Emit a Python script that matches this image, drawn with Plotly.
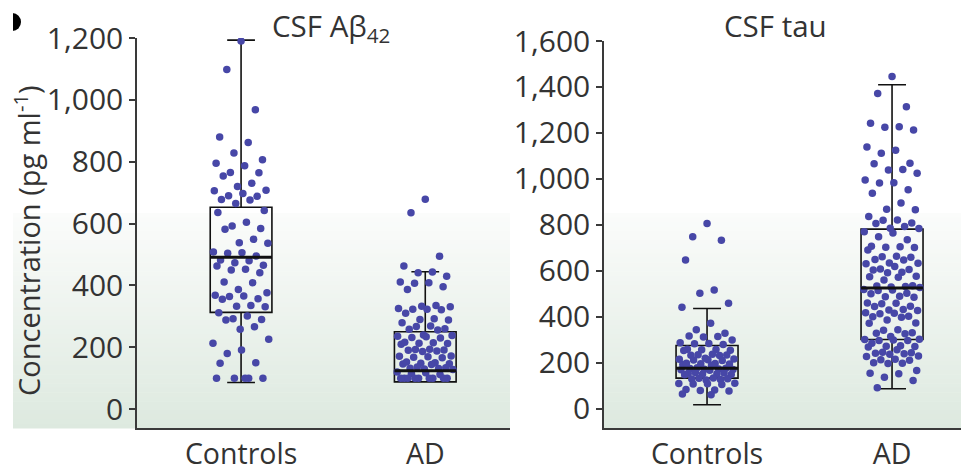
import plotly.graph_objects as go

# ---------------- data ----------------
categories = ["Controls", "AD"]

abeta_controls = [1190, 1098, 968, 880, 862, 828, 806, 795, 787, 765, 754, 764, 730, 720,
                  708, 706, 697, 688, 690, 676, 678, 665, 642, 636, 604, 584, 582, 592,
                  538, 536, 549, 495, 506, 504, 508, 482, 473, 480, 463, 452, 441, 450, 465,
                  409, 411, 387, 366, 376, 364, 368, 355, 357, 333, 331, 335, 312, 290, 301,
                  292, 288, 266, 258, 226, 213, 191, 180, 148, 150, 100, 100, 100, 100, 100]
abeta_ad = [679, 635, 494, 463, 441, 443, 430, 409, 407, 411, 396, 387, 333, 323, 331, 325,
            335, 321, 323, 310, 290, 292, 279, 288, 269, 258, 267, 260, 256,
            240, 236, 232, 238, 234, 230,
            215, 213, 210, 216, 212,
            193, 191, 188, 194, 190, 186,
            171, 169, 166, 172, 168,
            150, 148, 146, 152, 147, 144,
            134, 132, 130, 136, 131, 128,
            118, 115, 120, 112,
            100, 100, 100, 100, 100, 100, 100, 100, 100]
tau_controls = [806, 749, 734, 648, 503, 517, 459, 442, 372, 329, 344, 315, 317, 300, 313,
                288, 283, 280, 285,
                260, 257, 254, 258, 255,
                238, 235, 232, 236, 233,
                216, 214, 211, 217, 213, 220,
                198, 196, 193, 199, 195, 190,
                176, 174, 171, 177, 173, 170, 179, 168,
                155, 153, 150, 156, 152, 149, 158,
                133, 131, 128, 134, 130, 126,
                111, 109, 106, 112, 108,
                82, 80, 78, 84,
                65, 62]
tau_ad = [1446, 1372, 1314, 1227, 1242, 1213, 1225, 1139, 1125, 1112, 1068, 1066, 1039, 1041,
          1025, 996, 982, 984, 953, 938, 895, 866, 868, 837, 822, 808, 806, 820, 793, 785,
          786, 770, 765, 736, 749, 705, 703, 691, 707, 702, 662, 648, 660, 664, 650, 633,
          619, 631, 606, 635, 604, 592, 594, 608, 575, 561, 573, 577, 532, 517, 519, 530,
          534, 515, 528, 536, 488, 486, 503, 490, 501, 459, 445, 457, 461, 447, 430, 428,
          416, 432, 401, 418, 399, 403, 414, 372, 387, 374, 344, 329, 315, 331, 342, 327,
          300, 302, 298, 303, 297, 271, 273, 286, 269, 275, 257, 242, 244, 240, 246, 238,
          228, 214, 216, 230, 212, 199, 201, 197, 167, 155, 153, 124, 138, 92]

# box statistics: [Controls, AD]
abeta_q1 = [313, 88]
abeta_median = [491, 124]
abeta_q3 = [653, 250]
abeta_low = [86, 88]
abeta_high = [1193, 444]

tau_q1 = [134, 302]
tau_median = [177, 526]
tau_q3 = [276, 782]
tau_low = [18, 88]
tau_high = [437, 1410]

abeta_ticks = [0, 200, 400, 600, 800, 1000, 1200]
tau_ticks = [0, 200, 400, 600, 800, 1000, 1200, 1400, 1600]

# ---------------- styling / helpers ----------------
W, H = 969, 468
OFF = 8  # page body margin
DOT = "#4747a7"
AX = "#3a3a3a"
TXT = "#333333"
FONT = "Open Sans"
BOX_W = 0.335
HALF_SPREAD = 0.155


def vdc(n):
    v, denom = 0.0, 1.0
    while n:
        denom *= 2
        n, r = divmod(n, 2)
        v += r / denom
    return v


def spread(values, center):
    order = sorted(range(len(values)), key=lambda i: -values[i])
    xs = [0.0] * len(values)
    for k, i in enumerate(order):
        xs[i] = center + (vdc(k + 1) * 2 - 1) * HALF_SPREAD
    return xs


def py(p):
    return 1 - (p - OFF) / H


def px(p):
    return (p - OFF) / W


fig = go.Figure()

panels = [
    ("x", "y", [abeta_controls, abeta_ad], abeta_q1, abeta_median, abeta_q3, abeta_low, abeta_high),
    ("x2", "y2", [tau_controls, tau_ad], tau_q1, tau_median, tau_q3, tau_low, tau_high),
]

for xa, ya, groups, q1, med, q3, lo, hi in panels:
    for ci, vals in enumerate(groups):
        fig.add_trace(go.Scatter(
            x=spread(vals, ci), y=vals, mode="markers", xaxis=xa, yaxis=ya,
            marker=dict(color=DOT, size=7.5, line=dict(width=0)),
            hoverinfo="skip", showlegend=False))
    fig.add_trace(go.Box(
        x=[0, 1], q1=q1, median=med, q3=q3, lowerfence=lo, upperfence=hi,
        width=BOX_W, whiskerwidth=0.45, boxpoints=False,
        fillcolor="rgba(0,0,0,0)", line=dict(color="#111111", width=1.6),
        xaxis=xa, yaxis=ya, hoverinfo="skip", showlegend=False))
    for ci in range(len(categories)):
        fig.add_trace(go.Scatter(
            x=[ci - BOX_W / 2, ci + BOX_W / 2], y=[med[ci], med[ci]], mode="lines",
            line=dict(color="#111111", width=3), xaxis=xa, yaxis=ya,
            hoverinfo="skip", showlegend=False))

# gradient background strips
shapes = []
N = 48
top_c = (251, 252, 251)
bot_c = (221, 233, 223)
y_top, y_bot = 213, 428
for x0, x1 in [(13, 510), (604, 980)]:
    for k in range(N):
        t = (k + 0.5) / N
        c = tuple(round(top_c[j] + (bot_c[j] - top_c[j]) * t) for j in range(3))
        ya0 = y_top + (y_bot - y_top) * k / N
        ya1 = y_top + (y_bot - y_top) * (k + 1) / N + 0.6
        shapes.append(dict(type="rect", xref="paper", yref="paper",
                           x0=px(x0), x1=px(x1), y0=py(ya1), y1=py(ya0),
                           fillcolor="rgb(%d,%d,%d)" % c, line=dict(width=0), layer="below"))
# cropped panel letter
shapes.append(dict(type="circle", xref="paper", yref="paper", x0=px(4), x1=px(21),
                   y0=py(31), y1=py(13), fillcolor="black", line=dict(width=0), layer="above"))
shapes.append(dict(type="rect", xref="paper", yref="paper", x0=px(-2), x1=px(13),
                   y0=py(45), y1=py(0), fillcolor="white", line=dict(width=0), layer="above"))

axis_common = dict(showline=True, linecolor=AX, linewidth=1.5, showgrid=False, zeroline=False,
                   automargin=False)
ytick_font = dict(family=FONT, size=30, color=TXT)
xtick_font = dict(family=FONT, size=28.5, color=TXT)

fig.update_layout(
    width=W, height=H, margin=dict(l=0, r=0, t=0, b=0, pad=0, autoexpand=False),
    paper_bgcolor="white", plot_bgcolor="rgba(0,0,0,0)",
    font=dict(family=FONT, color=TXT),
    shapes=shapes,
    xaxis=dict(domain=[px(137), px(510)], range=[-0.565, 1.46], anchor="y",
               tickvals=[0, 1], ticktext=categories, ticks="", tickfont=xtick_font,
               **axis_common),
    yaxis=dict(domain=[py(428), py(38)], range=[-61, 1200], anchor="x",
               tickvals=abeta_ticks, tickformat=",d", ticks="outside", ticklen=6,
               tickwidth=1.5, tickcolor=AX, tickfont=ytick_font, **axis_common),
    xaxis2=dict(domain=[px(604), 1], range=[-0.557, 1.416 + 8 / 185], anchor="y2",
                tickvals=[0, 1], ticktext=categories, ticks="", tickfont=xtick_font,
                **axis_common),
    yaxis2=dict(domain=[py(428), py(41)], range=[-83, 1600], anchor="x2",
                tickvals=tau_ticks, tickformat=",d", ticks="outside", ticklen=6,
                tickwidth=1.5, tickcolor=AX, tickfont=ytick_font, **axis_common),
    annotations=[
        dict(text="CSF Aβ<sub>42</sub>", xref="paper", yref="paper", x=px(331), y=py(27),
             xanchor="center", yanchor="middle",
             showarrow=False, font=dict(family=FONT, size=29.5, color=TXT)),
        dict(text="CSF tau", xref="paper", yref="paper", x=px(775), y=py(26),
             xanchor="center", yanchor="middle",
             showarrow=False, font=dict(family=FONT, size=29.5, color=TXT)),
        dict(text="Concentration (pg ml<sup>-1</sup>)", xref="paper", yref="paper",
             x=px(27), y=py(241), xanchor="center", yanchor="middle", textangle=-90,
             showarrow=False, font=dict(family=FONT, size=29, color=TXT)),
    ],
)

fig.write_html("out.html")
